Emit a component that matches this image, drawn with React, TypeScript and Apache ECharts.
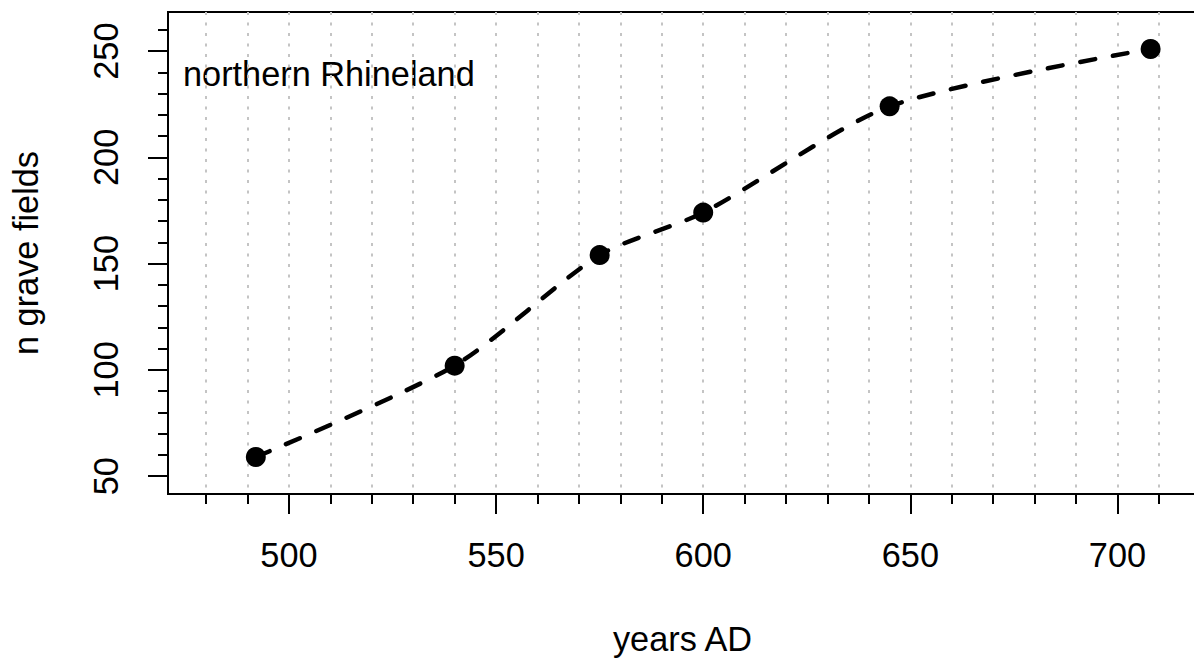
import React, { useEffect, useRef } from "react";
import * as echarts from "echarts";

// ---- data ----
const years = [492, 540, 575, 600, 645, 708];
const graveFields = [59, 102, 154, 174, 224, 251];

const xMajorTicks = [500, 550, 600, 650, 700];
const xMinorTicks = [480, 490, 500, 510, 520, 530, 540, 550, 560, 570, 580, 590, 600, 610, 620, 630, 640, 650, 660, 670, 680, 690, 700, 710];
const yMajorTicks = [50, 100, 150, 200, 250];
const yMinorTicks = [50, 60, 70, 80, 90, 100, 110, 120, 130, 140, 150, 160, 170, 180, 190, 200, 210, 220, 230, 240, 250, 260];

const xRange = [470.8, 719.2];
const yRange = [41.6, 268.4];

const regionLabel = "northern Rhineland";
const xTitle = "years AD";
const yTitle = "n grave fields";

const FONT = "'Liberation Sans', Arial, sans-serif";
const FS = 34.3;

export default function App() {
  const ref = useRef<HTMLDivElement>(null);

  useEffect(() => {
    if (!ref.current) return;
    const chart = echarts.init(ref.current, undefined, { renderer: "svg" });

    const labelStyle = {
      color: "#000",
      fontSize: FS,
      fontFamily: FONT,
      lineHeight: FS,
    };

    const option: any = {
      animation: false,
      backgroundColor: "#fff",
      grid: {
        left: 168,
        top: 12,
        right: -3,
        bottom: 167,
        show: true,
        borderColor: "#000",
        borderWidth: 2,
        backgroundColor: "transparent",
        containLabel: false,
        outerBoundsMode: "none",
      },
      xAxis: [
        {
          type: "value",
          position: "bottom",
          min: xRange[0],
          max: xRange[1],
          axisLine: { show: false, onZero: false },
          axisTick: {
            show: true,
            length: 20,
            customValues: xMajorTicks,
            lineStyle: { color: "#000", width: 2 },
          },
          axisLabel: {
            show: true,
            customValues: xMajorTicks,
            margin: 44,
            ...labelStyle,
          },
          splitLine: { show: false },
          name: xTitle,
          nameLocation: "middle",
          nameGap: 128,
          nameTextStyle: { ...labelStyle },
        },
        {
          type: "value",
          position: "bottom",
          min: xRange[0],
          max: xRange[1],
          axisLine: { show: false, onZero: false },
          axisTick: {
            show: true,
            length: 10,
            customValues: xMinorTicks,
            lineStyle: { color: "#000", width: 2 },
          },
          axisLabel: { show: false },
          splitLine: {
            show: true,
            lineStyle: { color: "#c4c4c4", width: 2, type: [3, 7.5] },
          },
        },
      ],
      yAxis: [
        {
          type: "value",
          position: "left",
          min: yRange[0],
          max: yRange[1],
          axisLine: { show: false, onZero: false },
          axisTick: {
            show: true,
            length: 20,
            customValues: yMajorTicks,
            lineStyle: { color: "#000", width: 2 },
          },
          axisLabel: {
            show: true,
            customValues: yMajorTicks,
            rotate: 90,
            margin: 45,
            ...labelStyle,
          },
          splitLine: { show: false },
          name: yTitle,
          nameLocation: "middle",
          nameRotate: 90,
          nameGap: 125,
          nameTextStyle: { ...labelStyle },
        },
        {
          type: "value",
          position: "left",
          min: yRange[0],
          max: yRange[1],
          axisLine: { show: false, onZero: false },
          axisTick: {
            show: true,
            length: 10,
            customValues: yMinorTicks,
            lineStyle: { color: "#000", width: 2 },
          },
          axisLabel: { show: false },
          splitLine: { show: false },
        },
      ],
      graphic: [
        {
          type: "text",
          x: 183,
          y: 74,
          style: {
            text: regionLabel,
            fill: "#000",
            fontSize: FS,
            fontFamily: FONT,
            verticalAlign: "middle",
            align: "left",
          },
        },
      ],
      series: [
        {
          type: "line",
          xAxisIndex: 0,
          yAxisIndex: 0,
          data: years.map((y, i) => [y, graveFields[i]]),
          smooth: 0.25,
          symbol: "circle",
          symbolSize: 20,
          itemStyle: { color: "#000" },
          lineStyle: { color: "#000", width: 4.5, type: [15, 18], cap: "round" },
          z: 3,
        },
      ],
    };

    chart.setOption(option);
    return () => chart.dispose();
  }, []);

  return (
    <div
      ref={ref}
      style={{ position: "fixed", left: 0, top: 0, width: 1194, height: 661, background: "#fff" }}
    />
  );
}
